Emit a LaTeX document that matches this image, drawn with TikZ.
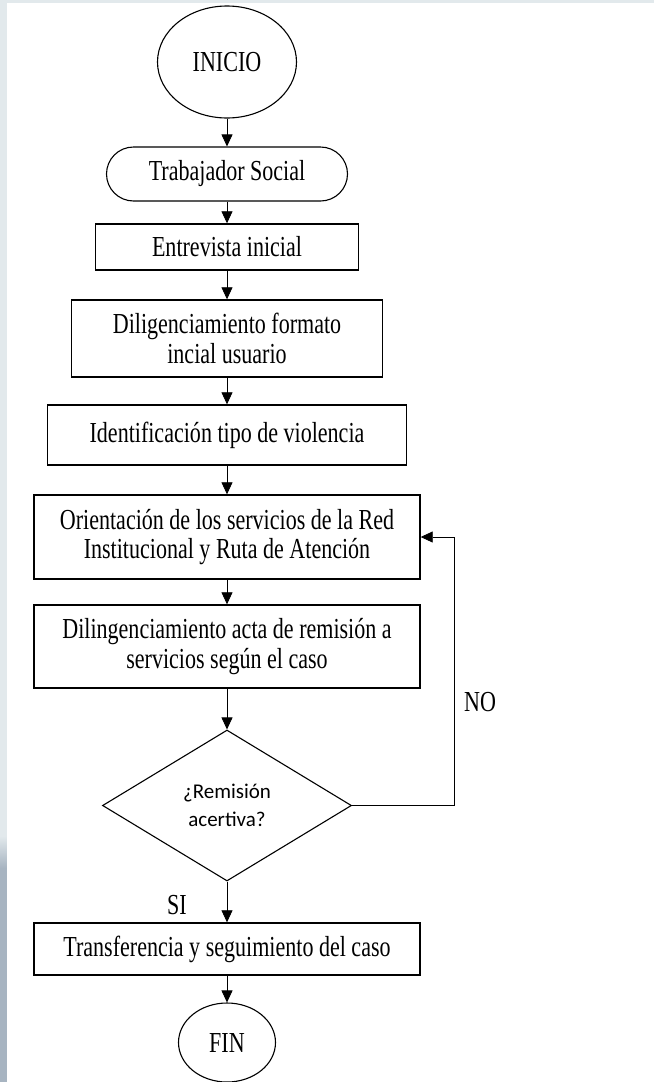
\documentclass[tikz,border=0pt]{standalone}
\usepackage{fontspec}
\setmainfont{Liberation Serif}[FakeStretch=0.76]
\newfontfamily\calibri{Carlito}
\usetikzlibrary{arrows.meta}
\usetikzlibrary{shapes.geometric}

\definecolor{fondo}{HTML}{E2E9EC}
\definecolor{grisazul}{HTML}{A7B4C1}

\begin{document}
\begin{tikzpicture}[x=1pt,y=-1pt,
  texto/.style={font=\fontsize{29}{29.5}\selectfont, align=center, inner sep=0pt},
  caja/.style={texto, draw, rectangle, line width=1.4pt, minimum width=386pt},
  terminal/.style={texto, draw, ellipse, line width=1.1pt},
  decision/.style={draw, diamond, line width=1.1pt, inner sep=0pt, align=center,
    font=\calibri\fontsize{21}{28}\selectfont},
  flecha/.style={-{Triangle[length=12pt, width=11pt]}, line width=0.8pt}]
\def\cx{227}

\useasboundingbox (0,0) rectangle (654,1082);
% fondo
\fill[fondo] (0,0) rectangle (654,1082);
\fill[grisazul] (0,868) rectangle (7,1082);
\shade[top color=fondo, bottom color=grisazul] (0,836) rectangle (7,868);
\fill[white] (7,3) rectangle (654,1082);

\node [terminal, minimum width=139pt, minimum height=112pt, name=inicio] at (\cx,62) {INICIO};
\node [texto, draw, line width=1.1pt, rounded corners=27pt, minimum width=241pt, minimum height=54pt, name=trabajador] at (\cx,174) {Trabajador Social};
\node [caja, minimum width=263pt, minimum height=46pt, name=entrevista] at (\cx,247) {Entrevista  inicial};
\node [caja, minimum width=311pt, minimum height=77pt, name=formato] at (\cx,338.5) {Diligenciamiento  formato\\incial  usuario};
\node [caja, minimum width=359pt, minimum height=60pt, name=tipo] at (\cx,435) {Identificación  tipo de violencia};
\node [caja, minimum height=84pt, name=orientacion] at (\cx,537) {Orientación  de los servicios  de la Red\\Institucional  y Ruta de Atención};
\node [caja, minimum height=83pt, name=acta] at (\cx,646.5) {Dilingenciamiento  acta de remisión   a\\servicios  según el caso};
\node [decision, minimum width=249pt, minimum height=151pt, name=remision] at (\cx,805.5) {¿Remisión\\acertiva?};
\node [caja, minimum height=52pt, name=transferencia] at (\cx,949) {Transferencia  y seguimiento  del caso};
\node [terminal, minimum width=97pt, minimum height=79pt, name=fin] at (\cx,1042.5) {FIN};

\node [texto, name=no] at (480,702) {NO};
\node [texto, name=si] at (177,905) {SI};
\coordinate (vuelta) at (454,805.5);

\draw [flecha] (inicio) to (trabajador);
\draw [flecha] (trabajador) to (entrevista);
\draw [flecha] (entrevista) to (formato);
\draw [flecha] (formato) to (tipo);
\draw [flecha] (tipo) to (orientacion);
\draw [flecha] (orientacion) to (acta);
\draw [flecha] (acta) to (remision);
\draw [flecha] (remision) to (transferencia);
\draw [flecha] (transferencia) to (fin);
\draw [flecha] (remision.east) -- (vuelta) |- (orientacion.east);
\end{tikzpicture}
\end{document}
